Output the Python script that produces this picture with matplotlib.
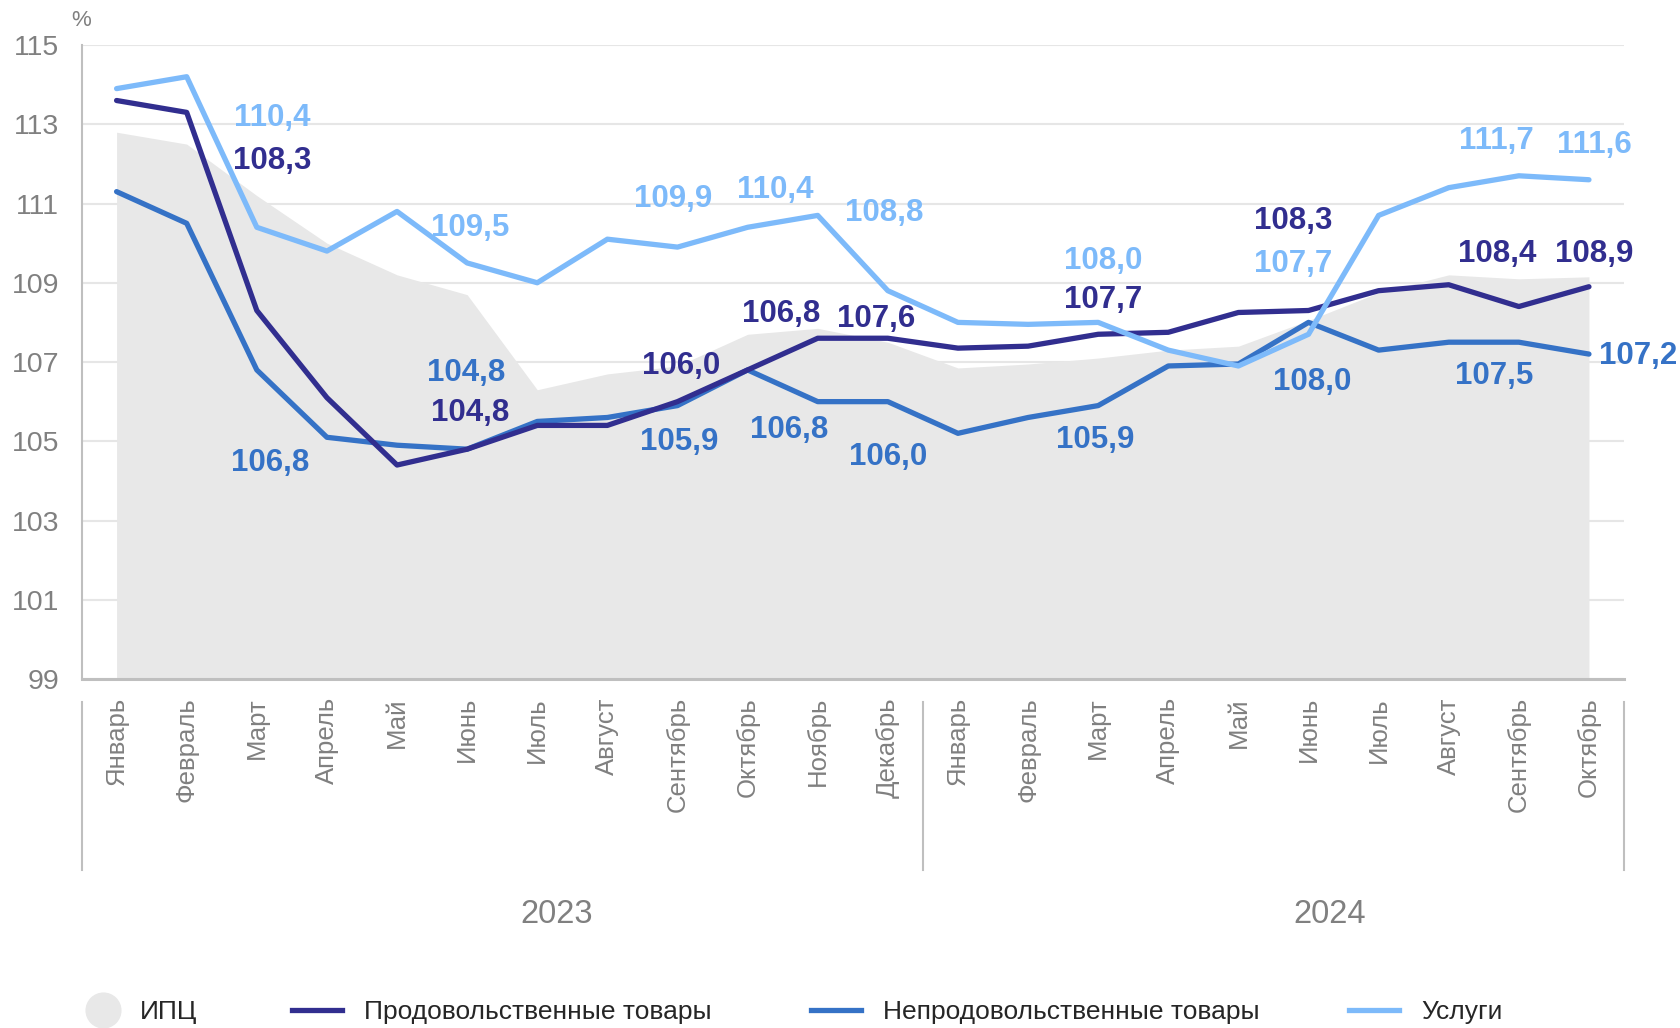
import matplotlib.pyplot as plt
from matplotlib.lines import Line2D

plt.rcParams['font.family'] = ['Liberation Sans', 'DejaVu Sans']

months = ['Январь', 'Февраль', 'Март', 'Апрель', 'Май', 'Июнь', 'Июль', 'Август',
          'Сентябрь', 'Октябрь', 'Ноябрь', 'Декабрь',
          'Январь', 'Февраль', 'Март', 'Апрель', 'Май', 'Июнь', 'Июль', 'Август',
          'Сентябрь', 'Октябрь']
years = ['2023', '2024']

cpi = [112.8, 112.5, 111.2, 110.0, 109.2, 108.7, 106.3, 106.7, 106.9, 107.7, 107.85, 107.5,
       106.85, 106.95, 107.1, 107.3, 107.4, 108.05, 108.75, 109.2, 109.1, 109.15]
food = [113.6, 113.3, 108.3, 106.1, 104.4, 104.8, 105.4, 105.4, 106.0, 106.8, 107.6, 107.6,
        107.35, 107.4, 107.7, 107.75, 108.25, 108.3, 108.8, 108.95, 108.4, 108.9]
nonfood = [111.3, 110.5, 106.8, 105.1, 104.9, 104.8, 105.5, 105.6, 105.9, 106.8, 106.0, 106.0,
           105.2, 105.6, 105.9, 106.9, 106.95, 108.0, 107.3, 107.5, 107.5, 107.2]
services = [113.9, 114.2, 110.4, 109.8, 110.8, 109.5, 109.0, 110.1, 109.9, 110.4, 110.7, 108.8,
            108.0, 107.95, 108.0, 107.3, 106.9, 107.7, 110.7, 111.4, 111.7, 111.6]

# which points get a value label
label_idx = [2, 5, 8, 9, 11, 14, 17, 20, 21]

C_CPI = '#E8E8E8'
C_FOOD = '#312E8F'
C_NONFOOD = '#3572C6'
C_SERV = '#7DBAFA'
GREY = '#808080'

fig = plt.figure(figsize=(16.81, 10.28), dpi=100)
ax = fig.add_axes([0.0485, 0.3395, 0.9176, 0.6167])

x = list(range(len(months)))
ax.fill_between(x, 99, cpi, color=C_CPI, lw=0, zorder=2)
ax.plot(x, food, color=C_FOOD, lw=3.8, zorder=4, solid_capstyle='round')
ax.plot(x, nonfood, color=C_NONFOOD, lw=3.8, zorder=3, solid_capstyle='round')
ax.plot(x, services, color=C_SERV, lw=3.8, zorder=5, solid_capstyle='round')

ax.set_xlim(-0.5, 21.5)
ax.set_ylim(99, 115)
ax.set_yticks(range(99, 116, 2))
ax.grid(axis='y', color='#E6E6E6', lw=1.5, zorder=0)
ax.set_axisbelow(True)
ax.tick_params(axis='y', length=0, pad=16, labelsize=20.5, labelcolor=GREY)
ax.set_xticks(x)
ax.set_xticklabels(months, rotation=90, fontsize=18.5, color=GREY)
ax.tick_params(axis='x', length=0, pad=13)
for s in ['top', 'right']:
    ax.spines[s].set_visible(False)
ax.spines['left'].set_color('#BFBFBF')
ax.spines['left'].set_linewidth(1.5)
ax.spines['bottom'].set_color('#BFBFBF')
ax.spines['bottom'].set_linewidth(2.2)

# label offsets in pixels (dx, dy)
serv_off = [(15, 109), (3, 35), (-4, 48), (28, 37), (-4, 78), (5, 61), (-15, 70), (-22, 35), (5, 35)]
food_off = [(15, 150), (3, 36), (4, 36), (34, 56), (-12, 19), (5, 34), (-15, 90), (-22, 53), (5, 33)]
nonfood_off = [(13, -93), (-1, 76), (2, -36), (42, -60), (0, -55), (-3, -34), (4, -60), (-25, -34), (49, -2)]

for series, offs, col in [(services, serv_off, C_SERV), (food, food_off, C_FOOD),
                          (nonfood, nonfood_off, C_NONFOOD)]:
    for i, (dx, dy) in zip(label_idx, offs):
        ax.annotate(f'{series[i]:.1f}'.replace('.', ','), (i, series[i]),
                    xytext=(dx, dy), textcoords='offset pixels',
                    ha='center', va='center', fontsize=22.5, fontweight='bold',
                    color=col, zorder=6)

# year group separators and labels
xt = ax.get_xaxis_transform()
for sx in [-0.5, 11.5, 21.5]:
    ax.plot([sx, sx], [-0.036, -0.301], transform=xt, color='#BFBFBF', lw=1.5, clip_on=False)
ax.text(6.27, -0.371, years[0], transform=xt, ha='center', va='center', fontsize=23.5, color=GREY)
ax.text(17.3, -0.371, years[1], transform=xt, ha='center', va='center', fontsize=23.5, color=GREY)

fig.text(0.0485, 0.9796, '%', ha='center', va='center', fontsize=16, color=GREY)

# legend
W, H = 1681, 1028
ly = 1 - 1010 / H
fig.add_artist(Line2D([103 / W], [ly], marker='o', markersize=25, color=C_CPI, lw=0))
fig.text(140 / W, 1 - 1012 / H, 'ИПЦ', fontsize=19, color='#262626', va='center')
for x0, col, name in [(292, C_FOOD, 'Продовольственные товары'),
                      (811, C_NONFOOD, 'Непродовольственные товары'),
                      (1349, C_SERV, 'Услуги')]:
    fig.add_artist(Line2D([x0 / W, (x0 + 50) / W], [ly, ly], color=col, lw=3.8))
    fig.text((x0 + 72) / W, 1 - 1012 / H, name, fontsize=19, color='#262626', va='center')

fig.savefig('out.png', dpi=100)
